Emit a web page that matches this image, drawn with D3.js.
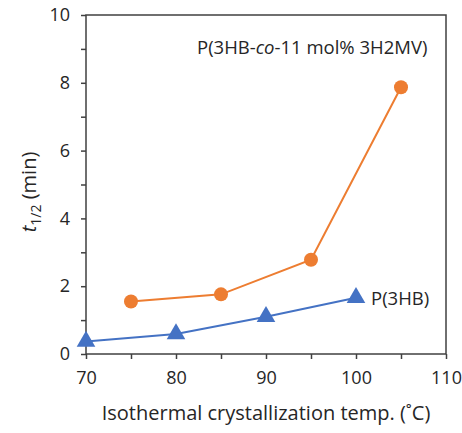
<!DOCTYPE html>
<html>
<head>
<meta charset="utf-8">
<script src="https://cdn.jsdelivr.net/npm/d3@7"></script>
<style>
body { margin: 0; background: #fff; }
text { font-family: "Open Sans", sans-serif; fill: #262626; }
</style>
</head>
<body>
<div id="chart"></div>
<script>
// data
var copolyTemps = [75, 85, 95, 105];
var copolyT12 = [1.55, 1.76, 2.78, 7.87];
var homoTemps = [70, 80, 90, 100];
var homoT12 = [0.37, 0.59, 1.1, 1.66];
var xTicks = [70, 80, 90, 100, 110];
var yTicks = [0, 2, 4, 6, 8, 10];

var width = 462, height = 433;
var plotL = 86, plotR = 446, plotT = 15, plotB = 354;

var svg = d3.select("#chart").append("svg")
    .attr("width", width)
    .attr("height", height);

var x = d3.scaleLinear().domain([70, 110]).range([plotL, plotR]);
var y = d3.scaleLinear().domain([0, 10]).range([plotB, plotT]);

var axisColor = "#404040";

// frame
svg.append("rect")
    .attr("x", plotL).attr("y", plotT)
    .attr("width", plotR - plotL).attr("height", plotB - plotT)
    .attr("fill", "none")
    .attr("stroke", axisColor)
    .attr("stroke-width", 1.5);

// y axis
var yAxis = svg.append("g")
    .attr("transform", "translate(" + plotL + ",0)")
    .call(d3.axisLeft(y).tickValues(d3.range(0, 11, 1)).tickSize(5).tickFormat(function(d) {
        return yTicks.indexOf(d) >= 0 ? d : "";
    }));
yAxis.select(".domain").remove();
yAxis.selectAll("line").attr("stroke", axisColor).attr("stroke-width", 1.5);
yAxis.selectAll("text").attr("font-size", 18).attr("x", -16).attr("fill", "#262626")
    .style("font-family", "Open Sans, sans-serif");

// x axis
var xAxis = svg.append("g")
    .attr("transform", "translate(0," + plotB + ")")
    .call(d3.axisBottom(x).tickValues(d3.range(70, 111, 5)).tickSize(5).tickFormat(function(d) {
        return xTicks.indexOf(d) >= 0 ? d : "";
    }));
xAxis.select(".domain").remove();
xAxis.selectAll("line").attr("stroke", axisColor).attr("stroke-width", 1.5);
xAxis.selectAll("text").attr("font-size", 18).attr("y", 17).attr("fill", "#262626")
    .style("font-family", "Open Sans, sans-serif");

// axis titles
svg.append("text")
    .attr("x", 266)
    .attr("y", 420)
    .attr("text-anchor", "middle")
    .attr("font-size", 20)
    .text("Isothermal crystallization temp. (\u02DAC)");

var yTitle = svg.append("text")
    .attr("transform", "translate(36," + 192 + ") rotate(-90)")
    .attr("text-anchor", "middle")
    .attr("font-size", 20);
yTitle.append("tspan").attr("font-style", "italic").text("t");
yTitle.append("tspan").attr("font-size", 14).attr("dy", 5).text("1/2");
yTitle.append("tspan").attr("dy", -5).text(" (min)");

var line = d3.line()
    .x(function(d) { return x(d[0]); })
    .y(function(d) { return y(d[1]); });

var orange = "#ED7D31", blue = "#4472C4";

var copoly = copolyTemps.map(function(t, i) { return [t, copolyT12[i]]; });
var homo = homoTemps.map(function(t, i) { return [t, homoT12[i]]; });

svg.append("path").datum(copoly)
    .attr("d", line).attr("fill", "none")
    .attr("stroke", orange).attr("stroke-width", 2);
svg.selectAll("circle.copoly").data(copoly).enter()
    .append("circle").attr("class", "copoly")
    .attr("cx", function(d) { return x(d[0]); })
    .attr("cy", function(d) { return y(d[1]); })
    .attr("r", 7).attr("fill", orange);

svg.append("path").datum(homo)
    .attr("d", line).attr("fill", "none")
    .attr("stroke", blue).attr("stroke-width", 2);
svg.selectAll("path.homo").data(homo).enter()
    .append("path").attr("class", "homo")
    .attr("transform", function(d) { return "translate(" + x(d[0]) + "," + y(d[1]) + ")"; })
    .attr("d", d3.symbol().type(d3.symbolTriangle).size(150))
    .attr("fill", blue);

// series labels
var lab1 = svg.append("text")
    .attr("x", 197).attr("y", 54)
    .attr("font-size", 18.5);
lab1.append("tspan").text("P(3HB-");
lab1.append("tspan").attr("font-style", "italic").text("co");
lab1.append("tspan").text("-11 mol% 3H2MV)");

svg.append("text")
    .attr("x", 371).attr("y", 305)
    .attr("font-size", 18.5)
    .text("P(3HB)");
</script>
</body>
</html>
